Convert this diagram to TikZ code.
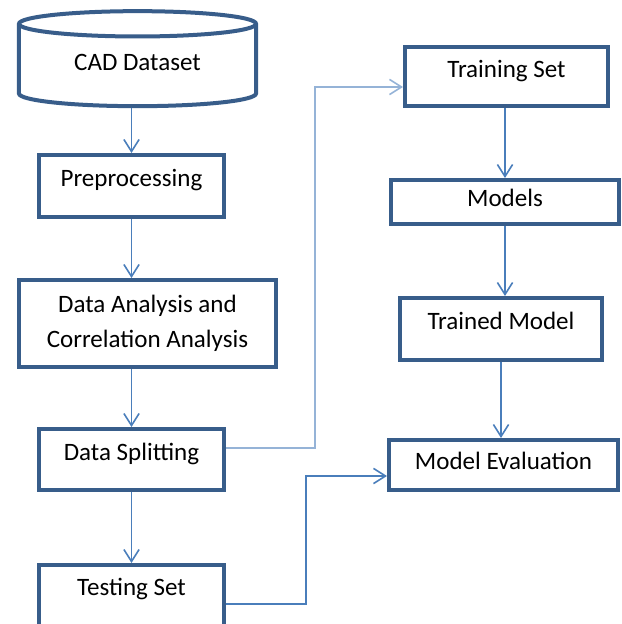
\documentclass[tikz,border=0pt]{standalone}
\usepackage{fontspec}
\setmainfont{Carlito}
\usepackage{tikz}
\usepackage{xcolor}
\usetikzlibrary{arrows.meta, positioning, shapes.geometric}

\definecolor{bordBleu}{RGB}{56,93,138}
\definecolor{flecheBleu}{RGB}{74,126,187}
\definecolor{flecheClair}{RGB}{149,179,215}

\begin{document}
\begin{tikzpicture}[
		x=0.025cm, y=-0.025cm,
		% styles des boites
		boite/.style={draw=bordBleu, fill=white, line width=0.1cm, inner sep=0pt,
			font=\fontsize{17.8pt}{24.8pt}\selectfont, align=center,
			text height=0.7em, text depth=0.6em},
		base/.style={boite, cylinder, shape border rotate=90, aspect=0.2,
			text height=0.95em, text depth=0.25em},
		fleche/.style={-{Straight Barb[length=0.3cm, width=0.38cm]}, draw=flecheBleu, line width=0.04cm},
		flecheClaire/.style={fleche, draw=flecheClair},
		]
		
		\useasboundingbox (0,0) rectangle (622,624);
		
		% colonne de gauche
		\node[base, minimum width=5.925cm, minimum height=2.375cm] (cad) at (137.5,66) {CAD Dataset};
		\node[boite, minimum width=4.625cm, minimum height=1.55cm] (prep) at (131.5,186) {Preprocessing};
		\node[boite, minimum width=6.425cm, minimum height=2.175cm, text height=, text depth=] (dana) at (147.5,323.5) {Data Analysis and\\Correlation Analysis};
		\node[boite, minimum width=4.625cm, minimum height=1.525cm] (split) at (131.5,459.5) {Data Splitting};
		\node[boite, minimum width=4.625cm, minimum height=1.575cm, text depth=0.9em] (test) at (131.5,596.5) {Testing Set};
		
		% colonne de droite
		\node[boite, minimum width=5.075cm, minimum height=1.475cm] (train) at (506.5,76.5) {Training Set};
		\node[boite, minimum width=5.7cm, minimum height=1.1cm, text depth=0.1em] (models) at (505,202) {Models};
		\node[boite, minimum width=5.05cm, minimum height=1.55cm] (trained) at (501,329) {Trained Model};
		\node[boite, minimum width=5.725cm, minimum height=1.25cm, text depth=0.1em] (eval) at (503.5,465) {Model Evaluation};
		
		% coudes
		\coordinate (coudeA) at (315,448);
		\coordinate (coudeB) at (315,87);
		\coordinate (coudeC) at (306,604);
		\coordinate (coudeD) at (306,476);
		
		\draw[fleche] (prep.north |- cad.south) -- (prep.north);
		\draw[fleche] (prep.south) -- (prep.south |- dana.north);
		\draw[fleche] (split.north |- dana.south) -- (split.north);
		\draw[fleche] (split.south) -- (test.north);
		
		\draw[fleche] (train.south -| models.north) -- (models.north);
		\draw[fleche] (models.south) -- (models.south |- trained.north);
		\draw[fleche] (trained.south) -- (trained.south |- eval.north);
		
		\draw[flecheClaire] (split.east |- coudeA) -- (coudeA) -- (coudeB) -- (train.west |- coudeB);
		\draw[fleche] (test.east |- coudeC) -- (coudeC) -- (coudeD) -- (eval.west |- coudeD);
		
	\end{tikzpicture}
\end{document}
